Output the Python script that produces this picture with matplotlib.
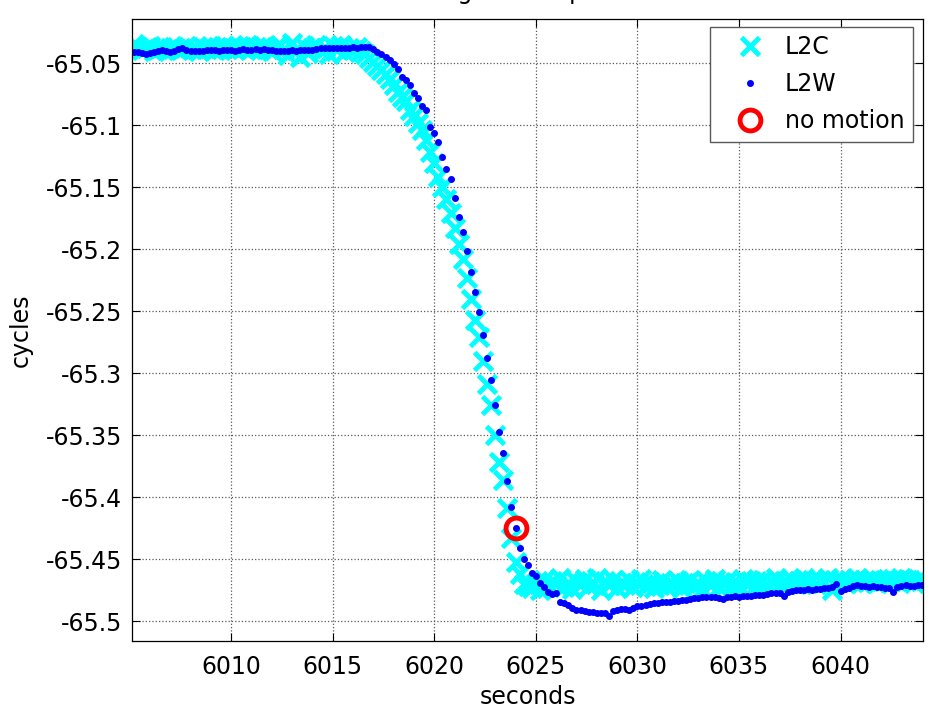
import numpy as np
import matplotlib
matplotlib.use("Agg")
import matplotlib.pyplot as plt

plt.rcParams['font.family'] = ['DejaVu Sans']

# samples every 0.2 s starting at 6005.2 s
t_start = 6005.2
t_step = 0.2

l2w = [
    -65.0412, -65.0410, -65.0420, -65.0428, -65.0422, -65.0414, -65.0405, -65.0397, -65.0402, -65.0408,
    -65.0400, -65.0385, -65.0376, -65.0394, -65.0403, -65.0405, -65.0399, -65.0401, -65.0397, -65.0394,
    -65.0398, -65.0402, -65.0396, -65.0393, -65.0396, -65.0400, -65.0395, -65.0390, -65.0394, -65.0392,
    -65.0389, -65.0391, -65.0387, -65.0392, -65.0396, -65.0399, -65.0402, -65.0405, -65.0400, -65.0397,
    -65.0401, -65.0398, -65.0394, -65.0396, -65.0391, -65.0386, -65.0382, -65.0379, -65.0381, -65.0377,
    -65.0380, -65.0376, -65.0378, -65.0375, -65.0373, -65.0376, -65.0372, -65.0370, -65.0372, -65.0390,
    -65.0412, -65.0428, -65.0455, -65.0478, -65.0508, -65.0552, -65.0610, -65.0637, -65.0677, -65.0740,
    -65.0785, -65.0847, -65.0879, -65.1014, -65.1062, -65.1137, -65.1260, -65.1357, -65.1438, -65.1591,
    -65.1740, -65.1860, -65.2014, -65.2183, -65.2344, -65.2511, -65.2694, -65.2882, -65.3056, -65.3258,
    -65.3473, -65.3648, -65.3869, -65.4083, -65.4245,
    -65.4410, -65.4500, -65.4550, -65.4615, -65.4637, -65.4696, -65.4722, -65.4763, -65.4782, -65.4772,
    -65.4844, -65.4857, -65.4871, -65.4896, -65.4908, -65.4912, -65.4922, -65.4930, -65.4926, -65.4934,
    -65.4938, -65.4931, -65.4957, -65.4918, -65.4912, -65.4905, -65.4901, -65.4908, -65.4896, -65.4880,
    -65.4874, -65.4870, -65.4862, -65.4857, -65.4852, -65.4849, -65.4844, -65.4846, -65.4840, -65.4835,
    -65.4831, -65.4826, -65.4820, -65.4815, -65.4812, -65.4806, -65.4803, -65.4808, -65.4804, -65.4810,
    -65.4818, -65.4809, -65.4804, -65.4800, -65.4802, -65.4798, -65.4795, -65.4799, -65.4793, -65.4790,
    -65.4786, -65.4782, -65.4776, -65.4773, -65.4771, -65.4800, -65.4765, -65.4758, -65.4752, -65.4750,
    -65.4749, -65.4744, -65.4747, -65.4742, -65.4738, -65.4733, -65.4730, -65.4724, -65.4700, -65.4760,
    -65.4738, -65.4729, -65.4720, -65.4712, -65.4715, -65.4719, -65.4722, -65.4720, -65.4724, -65.4727,
    -65.4729, -65.4733, -65.4762, -65.4722, -65.4714, -65.4712, -65.4718, -65.4713, -65.4710, -65.4708,
]

l2c = [
    -65.0350, -65.0372, -65.0395, -65.0381, -65.0366, -65.0402, -65.0389, -65.0374, -65.0391, -65.0378,
    -65.0368, -65.0397, -65.0383, -65.0359, -65.0388, -65.0376, -65.0401, -65.0370, -65.0386, -65.0364,
    -65.0393, -65.0379, -65.0360, -65.0387, -65.0372, -65.0398, -65.0366, -65.0381, -65.0357, -65.0389,
    -65.0371, -65.0395, -65.0362, -65.0384, -65.0405, -65.0369, -65.0352, -65.0390, -65.0437, -65.0341,
    -65.0398, -65.0448, -65.0366, -65.0418, -65.0375, -65.0352, -65.0401, -65.0380, -65.0425, -65.0363,
    -65.0390, -65.0357, -65.0412, -65.0378, -65.0395, -65.0370,
    -65.0400, -65.0430, -65.0460, -65.0490, -65.0520, -65.0560, -65.0590, -65.0630, -65.0680, -65.0730,
    -65.0770, -65.0810, -65.0880, -65.0930, -65.0980, -65.1040, -65.1120, -65.1220, -65.1310, -65.1420,
    -65.1500, -65.1600, -65.1710, -65.1830, -65.1960, -65.2080, -65.2230, -65.2400, -65.2570, -65.2710,
    -65.2900, -65.3090, -65.3260, -65.3500, -65.3720, -65.3860, -65.4090, -65.4330, -65.4520, -65.4620,
    -65.4700,
    -65.4720, -65.4735, -65.4690, -65.4745, -65.4665, -65.4710, -65.4680, -65.4700, -65.4655, -65.4725,
    -65.4690, -65.4740, -65.4675, -65.4700, -65.4660, -65.4720, -65.4695, -65.4650, -65.4745, -65.4680,
    -65.4705, -65.4665, -65.4730, -65.4690, -65.4710, -65.4670, -65.4725, -65.4695, -65.4660, -65.4715,
    -65.4685, -65.4735, -65.4700, -65.4665, -65.4720, -65.4690, -65.4705, -65.4675, -65.4730, -65.4695,
    -65.4670, -65.4715, -65.4690, -65.4740, -65.4680, -65.4705, -65.4660, -65.4725, -65.4695, -65.4675,
    -65.4710, -65.4685, -65.4720, -65.4660, -65.4700, -65.4680, -65.4715, -65.4690, -65.4670, -65.4705,
    -65.4680, -65.4655, -65.4710, -65.4675, -65.4695, -65.4665, -65.4700, -65.4680, -65.4650, -65.4690,
    -65.4670, -65.4700, -65.4665, -65.4685, -65.4655, -65.4745, -65.4680, -65.4660, -65.4695, -65.4670,
    -65.4685, -65.4655, -65.4690, -65.4670, -65.4680, -65.4660, -65.4695, -65.4675, -65.4665, -65.4685,
    -65.4660, -65.4675, -65.4650, -65.4680, -65.4665, -65.4690, -65.4660, -65.4670,
]

no_motion_t = [6024.0]
no_motion_v = [-65.4245]

t = np.round(t_start + t_step * np.arange(len(l2w)), 1)

fs = 17

fig = plt.figure(figsize=(9.34, 7.07), dpi=100)
ax = fig.add_axes([132 / 934, 66 / 707, 791 / 934, 622 / 707])

ax.plot(t, l2c, 'x', color='cyan', markersize=13, markeredgewidth=3.5, label='L2C')
ax.plot(t, l2w, '.', color='blue', markersize=8, label='L2W')
ax.plot(no_motion_t, no_motion_v, 'o', color='red', markerfacecolor='none',
        markersize=15, markeredgewidth=3.5, label='no motion')

ax.set_xlim(6005.12, 6044.06)
ax.set_ylim(-65.516, -65.0145)
ax.set_xticks([6010, 6015, 6020, 6025, 6030, 6035, 6040])
yt = [-65.05, -65.1, -65.15, -65.2, -65.25, -65.3, -65.35, -65.4, -65.45, -65.5]
ax.set_yticks(yt)
ax.set_yticklabels(['%g' % v for v in yt])

ax.tick_params(direction='in', length=6, top=True, right=True, labelsize=fs)
ax.tick_params(axis='x', pad=10)
ax.tick_params(axis='y', pad=7)
ax.grid(True, linestyle=':', color='0.35', linewidth=0.9)
for s in ax.spines.values():
    s.set_linewidth(0.9)

ax.set_xlabel('seconds', fontsize=fs)
ax.set_ylabel('cycles', fontsize=fs)
ax.xaxis.set_label_coords(0.5, -0.07)
ax.yaxis.set_label_coords(-0.125, 0.5)

# title sits above the top edge, only its descenders show
fig.text(527.5 / 934, 1 + 1.5 / 707, 'Tracking at a stop interval', ha='center',
         va='baseline', fontsize=fs)

leg = ax.legend(loc='upper right', bbox_to_anchor=(913 / 934, 1 - 27 / 707),
                bbox_transform=fig.transFigure, borderaxespad=0, numpoints=1,
                fontsize=fs, fancybox=False, framealpha=1, edgecolor='0.35',
                handlelength=2.7, handletextpad=0.15, labelspacing=0.55,
                borderpad=0.35)
leg.get_frame().set_linewidth(1.0)

fig.savefig('out.png', dpi=100)
